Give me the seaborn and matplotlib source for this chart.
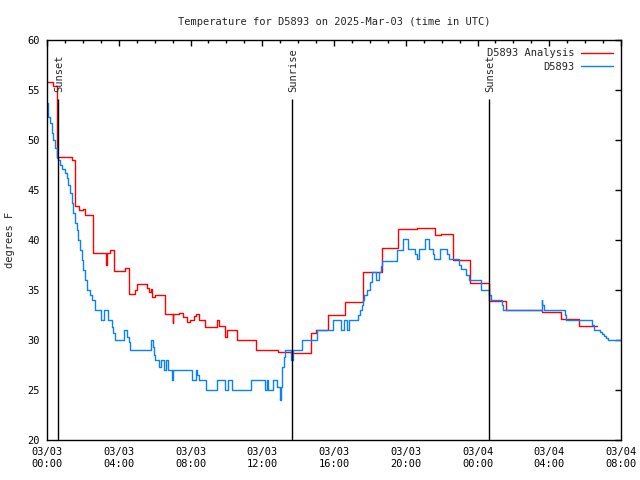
import pandas as pd
import matplotlib
matplotlib.use("Agg")
import matplotlib.pyplot as plt
import matplotlib.dates as mdates
import seaborn as sns


START = pd.Timestamp("2025-03-03 00:00")
END = pd.Timestamp("2025-03-04 08:00")

# hours after 03/03 00:00 UTC, temperature in degrees F (step data)
analysis_hours = [0.0, 0.35, 0.53, 0.58, 1.37, 1.56, 1.8, 1.99, 2.12, 2.57,
                  3.3, 3.35, 3.5, 3.75, 4.35, 4.59, 4.9, 5.0, 5.6, 5.7,
                  5.8, 5.85, 6.0, 6.58, 7.0, 7.04, 7.36, 7.6, 7.8, 7.97,
                  8.2, 8.3, 8.45, 8.5, 8.8, 9.45, 9.6, 9.9, 10.05, 10.6,
                  11.65, 12.9, 13.6, 14.7, 15.0, 15.65, 16.6, 17.6, 18.65, 19.55,
                  20.6, 21.65, 21.96, 22.65, 23.6, 24.62, 25.6, 27.6, 28.65, 29.65,
                  30.65]
analysis_temps = [55.8, 55.4, 50.2, 48.3, 48.0, 43.4, 43.0, 43.1, 42.5, 38.7,
                  37.5, 38.7, 39.0, 36.9, 37.2, 34.6, 35.0, 35.6, 35.2, 34.8,
                  35.1, 34.3, 34.5, 32.6, 31.7, 32.6, 32.7, 32.3, 31.8, 32.0,
                  32.4, 32.6, 32.2, 32.0, 31.3, 32.0, 31.4, 30.3, 31.0, 30.0,
                  29.0, 28.8, 28.7, 30.7, 31.0, 32.5, 33.8, 36.8, 39.2, 41.1,
                  41.2, 40.5, 40.6, 38.0, 35.7, 33.9, 33.0, 32.8, 32.1, 31.4,
                  31.4]

obs_hours = [0.0, 0.07, 0.17, 0.26, 0.35, 0.45, 0.54, 0.63, 0.72, 0.82,
             1.0, 1.1, 1.19, 1.28, 1.38, 1.47, 1.56, 1.65, 1.75, 1.84,
             1.93, 2.02, 2.12, 2.21, 2.4, 2.49, 2.68, 3.0, 3.18, 3.38,
             3.6, 3.7, 3.79, 4.29, 4.45, 4.55, 4.63, 5.82, 5.9, 5.96,
             6.02, 6.25, 6.35, 6.52, 6.62, 6.75, 6.98, 7.04, 8.07, 8.3,
             8.38, 8.46, 8.85, 9.46, 9.9, 10.07, 10.33, 11.4, 12.13, 12.25,
             12.3, 12.6, 12.85, 12.99, 13.05, 13.12, 13.2, 13.27, 13.6, 13.73,
             14.23, 15.03, 15.96, 16.4, 16.55, 16.7, 16.85, 17.35, 17.45, 17.55,
             17.62, 17.7, 17.86, 18.0, 18.1, 18.35, 18.5, 18.62, 18.7, 19.5,
             19.83, 20.14, 20.5, 20.6, 20.75, 21.1, 21.3, 21.5, 21.6, 21.9,
             22.3, 22.4, 22.98, 23.08, 23.38, 23.5, 24.17, 24.65, 24.73, 25.35,
             25.4, 27.57, 27.62, 27.7, 28.87, 28.95, 30.4, 30.5, 30.85, 30.95,
             31.05, 31.15, 31.3, 31.95]
obs_temps = [53.7, 52.3, 51.7, 50.7, 50.0, 49.2, 48.2, 48.0, 47.5, 47.1,
             46.7, 46.2, 45.5, 44.7, 43.7, 42.7, 41.7, 41.0, 40.0, 39.0,
             38.0, 37.0, 36.0, 35.0, 34.5, 34.0, 33.0, 32.0, 33.0, 32.0,
             31.3, 30.7, 30.0, 31.0, 30.3, 29.8, 29.0, 30.0, 29.3, 28.5,
             28.0, 27.3, 28.0, 27.0, 28.0, 27.0, 26.0, 27.0, 26.0, 27.0,
             26.5, 26.0, 25.0, 26.0, 25.0, 26.0, 25.0, 26.0, 25.0, 26.0,
             25.0, 26.0, 25.3, 24.0, 25.3, 27.3, 28.3, 29.0, 28.0, 29.0,
             30.0, 31.0, 32.0, 31.0, 32.0, 31.0, 32.0, 32.5, 33.0, 33.5,
             34.0, 34.5, 35.0, 35.8, 36.8, 36.0, 36.8, 37.4, 37.9, 39.0,
             40.1, 39.1, 38.6, 38.1, 39.1, 40.1, 39.1, 38.6, 38.1, 39.1,
             38.6, 38.1, 37.5, 37.07, 36.5, 36.0, 35.0, 34.5, 34.0, 33.5,
             33.0, 34.0, 33.5, 33.0, 32.5, 32.0, 31.5, 31.0, 30.8, 30.6,
             30.4, 30.2, 30.0, 30.0]

event_hours = [0.61, 13.64, 24.65]
event_names = ["Sunset", "Sunrise", "Sunset"]
y_ticks = [20, 25, 30, 35, 40, 45, 50, 55, 60]


def to_times(hours):
    return START + pd.to_timedelta(hours, unit="h")


def main():
    sns.set_style("white")
    plt.rcParams["font.family"] = ["DejaVu Sans Mono"]
    plt.rcParams["font.size"] = 7

    fig = plt.figure(figsize=(6.4, 4.8), dpi=100)
    ax = fig.add_axes([47 / 640, 40 / 480, 574 / 640, 400 / 480])

    analysis = pd.DataFrame({"time": to_times(analysis_hours), "temp": analysis_temps})
    obs = pd.DataFrame({"time": to_times(obs_hours), "temp": obs_temps})

    sns.lineplot(data=analysis, x="time", y="temp", ax=ax, color="#ff0000",
                 drawstyle="steps-post", linewidth=1.0, estimator=None,
                 label="D5893 Analysis")
    sns.lineplot(data=obs, x="time", y="temp", ax=ax, color="#0a80ff",
                 drawstyle="steps-post", linewidth=1.0, estimator=None,
                 label="D5893")

    # sunrise / sunset markers
    event_times = to_times(event_hours)
    ax.vlines(event_times, 20, 54.1, color="black", linewidth=1.0)
    for t, name in zip(event_times, event_names):
        ax.text(t + pd.Timedelta(minutes=4), 54.8, name, rotation=90,
                ha="center", va="bottom", fontsize=7.5)

    ax.set_xlim(START, END)
    ax.set_ylim(20, 60)
    ax.set_yticks(y_ticks)
    ax.xaxis.set_major_locator(mdates.HourLocator(byhour=range(0, 24, 4)))
    ax.xaxis.set_minor_locator(mdates.HourLocator())
    ax.xaxis.set_major_formatter(mdates.DateFormatter("%m/%d\n%H:%M"))

    ax.tick_params(which="both", direction="in", top=True, right=True,
                   width=1, labelsize=7.5, colors="black")
    ax.tick_params(which="major", length=4, pad=5)
    ax.tick_params(which="minor", length=2)
    for spine in ax.spines.values():
        spine.set_color("black")
        spine.set_linewidth(1)

    ax.set_xlabel("")
    ax.set_ylabel("degrees F", fontsize=7.5, labelpad=9)
    ax.set_title("Temperature for D5893 on 2025-Mar-03 (time in UTC)",
                 fontsize=7.5, pad=11)

    ax.legend(loc="upper right", frameon=False, markerfirst=False,
              handlelength=3, handletextpad=0.7, labelspacing=0.35,
              borderaxespad=0.4, fontsize=7.5)

    fig.savefig("out.png", dpi=100, facecolor="white")
    plt.close("all")


if __name__ == "__main__":
    main()
